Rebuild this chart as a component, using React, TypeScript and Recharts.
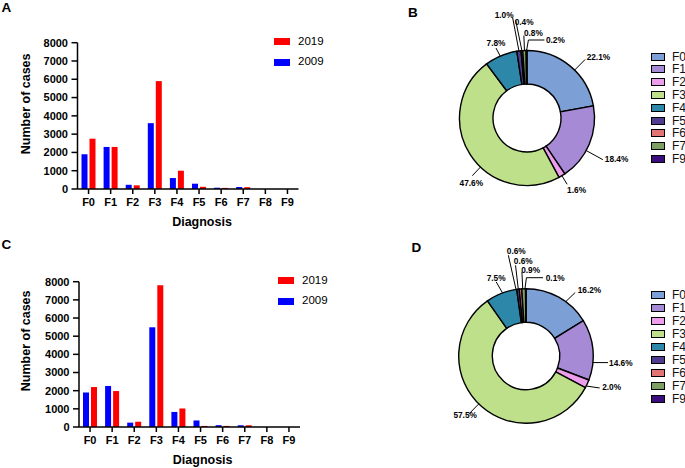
import React from "react"
import { Bar, BarChart, Cell, Label, Legend, Pie, PieChart, XAxis, YAxis } from "recharts"

// bar panels (A = upper, C = lower)
const diagnoses = ["F0", "F1", "F2", "F3", "F4", "F5", "F6", "F7", "F8", "F9"]
const cases2009A = [1900, 2300, 230, 3600, 600, 290, 70, 110, 0, 0]
const cases2019A = [2750, 2300, 200, 5900, 1000, 120, 60, 100, 0, 0]
const cases2009C = [1900, 2260, 240, 5490, 830, 360, 100, 95, 0, 0]
const cases2019C = [2200, 1980, 290, 7800, 1020, 60, 60, 95, 0, 0]
const yTicks = [0, 1000, 2000, 3000, 4000, 5000, 6000, 7000, 8000]

// donut panels (B = upper, D = lower), shares in %
const pieCategories = ["F0", "F1", "F2", "F3", "F4", "F5", "F6", "F7", "F9"]
const sharesB = [22.1, 18.4, 1.6, 47.6, 7.8, 1.0, 0.4, 0.8, 0.2]
const sharesD = [16.2, 14.6, 2.0, 57.5, 7.5, 0.6, 0.6, 0.9, 0.1]

const pieColors = ["#7ca0d6", "#a68ad5", "#ec9dec", "#bee08b", "#2c87a9", "#4f3c8e", "#e37474", "#7e9f62", "#3b0c7e"]
const RED = "#ff0000"
const BLUE = "#0000ff"
const FONT = '"Liberation Sans", Arial, Helvetica, sans-serif'

// leader line layout for each donut label (angle shift, radial length, tilt, elbow, text offset)
type LabelLayout = { shift: number; len: number; tilt: number; elbow: number; anchor: "start" | "middle" | "end"; dx: number; dy: number }
const labelLayoutB: LabelLayout[] = [
  { shift: -5, len: 15, tilt: 0, elbow: 0, anchor: "start", dx: 1.5, dy: 1 },
  { shift: -6, len: 19, tilt: 0, elbow: 0, anchor: "start", dx: 2, dy: 2 },
  { shift: 0, len: 10, tilt: 0, elbow: 0, anchor: "start", dx: 0, dy: 8.5 },
  { shift: 14, len: 12, tilt: 0, elbow: 0, anchor: "middle", dx: -1, dy: 10 },
  { shift: 0.7, len: 9, tilt: 0.5, elbow: 0, anchor: "middle", dx: 0, dy: -2.5 },
  { shift: 0, len: 34, tilt: 1.3, elbow: 0, anchor: "end", dx: 1, dy: 0 },
  { shift: 0, len: 31, tilt: 2.3, elbow: 0, anchor: "start", dx: -1, dy: 5 },
  { shift: 0, len: 15, tilt: 0, elbow: 0, anchor: "start", dx: 0, dy: 0 },
  { shift: 0, len: 10.5, tilt: -1.4, elbow: 16, anchor: "start", dx: 1.5, dy: 2.5 },
]
const labelLayoutD: LabelLayout[] = [
  { shift: -7, len: 13, tilt: -1.6, elbow: 0, anchor: "start", dx: 2.5, dy: 0 },
  { shift: -11, len: 15, tilt: 1, elbow: 0, anchor: "start", dx: 1, dy: 3 },
  { shift: -2, len: 13, tilt: 3, elbow: 0, anchor: "start", dx: 2.5, dy: 2.5 },
  { shift: -3, len: 14, tilt: 0, elbow: 0, anchor: "end", dx: 8, dy: 4 },
  { shift: -1, len: 12.6, tilt: 1.5, elbow: 0, anchor: "middle", dx: 0, dy: -1 },
  { shift: 1.7, len: 35, tilt: 1.4, elbow: 0, anchor: "start", dx: -1.5, dy: -1.5 },
  { shift: 1.9, len: 24, tilt: 0, elbow: 0, anchor: "start", dx: -1.7, dy: -1 },
  { shift: 0.8, len: 17, tilt: 0, elbow: 0, anchor: "start", dx: -0.7, dy: 1 },
  { shift: 0.7, len: 11, tilt: -1.2, elbow: 16.6, anchor: "start", dx: 2.7, dy: 3 },
]

const RAD = Math.PI / 180
const polar = (cx: number, cy: number, r: number, a: number) => ({
  x: cx + r * Math.cos(a * RAD),
  y: cy - r * Math.sin(a * RAD),
})

const renderPieLabel = (layout: LabelLayout[]) => (props: any) => {
  const { cx, cy, midAngle, outerRadius, index, value } = props
  const l = layout[index]
  const a0 = midAngle + l.shift
  const p0 = polar(cx, cy, outerRadius, a0)
  const p1 = polar(cx, cy, outerRadius + l.len, a0 + l.tilt)
  const p2 = { x: p1.x + l.elbow, y: p1.y }
  return (
    <g key={`lbl-${index}`}>
      <polyline
        points={`${p0.x},${p0.y} ${p1.x},${p1.y} ${p2.x},${p2.y}`}
        style={{ fill: "none", stroke: "#000", strokeWidth: 1 }}
      />
      <text
        x={p2.x + l.dx}
        y={p2.y + l.dy}
        textAnchor={l.anchor}
        style={{ fill: "#000", stroke: "none", fontSize: 8.3, fontWeight: "bold" }}
      >
        {`${Number(value).toFixed(1)}%`}
      </text>
    </g>
  )
}

const pieLegend = (rowHeight: number) => () => (
  <div style={{ fontFamily: FONT }}>
    {pieCategories.map((c, i) => (
      <div key={c} style={{ display: "flex", alignItems: "center", height: rowHeight }}>
        <span
          style={{
            display: "inline-block",
            width: 12,
            height: 6,
            background: pieColors[i],
            border: "1px solid #000",
            marginRight: 7,
          }}
        />
        <span style={{ fontSize: 12, color: "#111", lineHeight: 1 }}>{c}</span>
      </div>
    ))}
  </div>
)

const barLegend = (props: any) => {
  const items = (props.payload || []).slice().reverse()
  return (
    <div style={{ fontFamily: FONT }}>
      {items.map((it: any) => (
        <div key={it.value} style={{ display: "flex", alignItems: "center", height: 20.5 }}>
          <span style={{ display: "inline-block", width: 16, height: 7, background: it.color, marginRight: 8 }} />
          <span style={{ fontSize: 11.5, color: "#000", lineHeight: 1 }}>{it.value}</span>
        </div>
      ))}
    </div>
  )
}

interface BarPanelProps {
  cases2009: number[]
  cases2019: number[]
  plotTop: number
  plotBottom: number
  axisWidth: number
  legendLeft: number
  yTitleShift: number
  xTitleShift: number
}

function BarPanel({ cases2009, cases2019, plotTop, plotBottom, axisWidth, legendLeft, yTitleShift, xTitleShift }: BarPanelProps) {
  const data = diagnoses.map((name, i) => ({ name, y2009: cases2009[i], y2019: cases2019[i] }))
  const axisStroke = { stroke: "#000", strokeWidth: 1.5 }
  return (
    <BarChart
      width={340}
      height={plotBottom + 43}
      data={data}
      margin={{ top: plotTop, right: 340 - axisWidth - 221, left: 0, bottom: 0 }}
      barGap={2}
      barSize={6}
    >
      <XAxis
        dataKey="name"
        height={43}
        interval={0}
        axisLine={axisStroke}
        tickLine={axisStroke}
        tickSize={5}
        tickMargin={4.5}
        tick={{ fill: "#000", fontSize: 11, fontWeight: "bold" }}
      >
        <Label
          content={(p: any) => {
            const vb = p.viewBox || { x: axisWidth, y: plotBottom, width: 221 }
            return (
              <text
                x={vb.x + vb.width / 2 + xTitleShift}
                y={vb.y + 37}
                textAnchor="middle"
                fontSize={12.5}
                fontWeight="bold"
                fill="#000"
              >
                Diagnosis
              </text>
            )
          }}
        />
      </XAxis>
      <YAxis
        width={axisWidth}
        domain={[0, 8000]}
        ticks={yTicks}
        interval={0}
        axisLine={axisStroke}
        tickLine={axisStroke}
        tickSize={6}
        tickMargin={3.5}
        tick={{ fill: "#000", fontSize: 11, fontWeight: "bold" }}
      >
        <Label
          content={(p: any) => {
            const vb = p.viewBox || { x: 0, y: plotTop, height: plotBottom - plotTop }
            const x = vb.x + 26
            const y = vb.y + vb.height / 2 + yTitleShift
            return (
              <text
                x={x}
                y={y}
                transform={`rotate(-90 ${x} ${y})`}
                textAnchor="middle"
                dominantBaseline="central"
                fontSize={12.5}
                fontWeight="bold"
                fill="#000"
              >
                Number of cases
              </text>
            )
          }}
        />
      </YAxis>
      <Legend
        layout="vertical"
        align="center"
        verticalAlign="middle"
        content={barLegend}
        wrapperStyle={{ left: legendLeft, top: plotTop - 11.25, width: 60, height: 41 }}
      />
      <Bar dataKey="y2009" name="2009" fill={BLUE} isAnimationActive={false} />
      <Bar dataKey="y2019" name="2019" fill={RED} isAnimationActive={false} />
    </BarChart>
  )
}

interface PiePanelProps {
  shares: number[]
  layout: LabelLayout[]
  cx: number
  cy: number
  outer: number
  inner: number
  legendTop: number
  legendRow: number
}

function PiePanel({ shares, layout, cx, cy, outer, inner, legendTop, legendRow }: PiePanelProps) {
  const data = pieCategories.map((name, i) => ({ name, value: shares[i] }))
  return (
    <PieChart width={345} height={232} margin={{ top: 0, right: 0, bottom: 0, left: 0 }}>
      <Pie
        data={data}
        dataKey="value"
        nameKey="name"
        cx={cx}
        cy={cy}
        innerRadius={inner}
        outerRadius={outer}
        startAngle={90}
        endAngle={-270}
        stroke="#000"
        strokeWidth={1.4}
        label={renderPieLabel(layout)}
        labelLine={false}
        isAnimationActive={false}
      >
        {data.map((d, i) => (
          <Cell key={d.name} fill={pieColors[i]} />
        ))}
      </Pie>
      <Legend
        layout="vertical"
        align="center"
        verticalAlign="middle"
        content={pieLegend(legendRow)}
        wrapperStyle={{ left: 311, top: legendTop, width: 40, height: legendRow * 9 }}
      />
    </PieChart>
  )
}

const letterStyle = { fontSize: 13.5, fontWeight: "bold" as const, fill: "#000" }

export default function App() {
  return (
    <div
      style={{
        position: "absolute",
        left: 0,
        top: 0,
        width: 685,
        height: 468,
        overflow: "hidden",
        background: "#fff",
        fontFamily: FONT,
      }}
    >
      <svg width={685} height={468} style={{ position: "absolute", left: 0, top: 0 }}>
        <text x={1.5} y={12} {...letterStyle}>A</text>
        <text x={408} y={16.7} {...letterStyle}>B</text>
        <text x={1.5} y={249} {...letterStyle}>C</text>
        <text x={411.5} y={252.3} {...letterStyle}>D</text>
      </svg>
      <div style={{ position: "absolute", left: 0, top: 0 }}>
        <BarPanel
          cases2009={cases2009A}
          cases2019={cases2019A}
          plotTop={42.7}
          plotBottom={189}
          axisWidth={77.5}
          legendLeft={274}
          yTitleShift={-12}
          xTitleShift={14}
        />
      </div>
      <div style={{ position: "absolute", left: 0, top: 235 }}>
        <BarPanel
          cases2009={cases2009C}
          cases2019={cases2019C}
          plotTop={46.7}
          plotBottom={192}
          axisWidth={79}
          legendLeft={278}
          yTitleShift={-13.5}
          xTitleShift={13.2}
        />
      </div>
      <div style={{ position: "absolute", left: 340, top: 0 }}>
        <PiePanel
          shares={sharesB}
          layout={labelLayoutB}
          cx={187}
          cy={118}
          outer={67.5}
          inner={34}
          legendTop={50.3}
          legendRow={12.8}
        />
      </div>
      <div style={{ position: "absolute", left: 340, top: 235 }}>
        <PiePanel
          shares={sharesD}
          layout={labelLayoutD}
          cx={186}
          cy={121}
          outer={67.3}
          inner={33.7}
          legendTop={53.5}
          legendRow={13}
        />
      </div>
    </div>
  )
}
